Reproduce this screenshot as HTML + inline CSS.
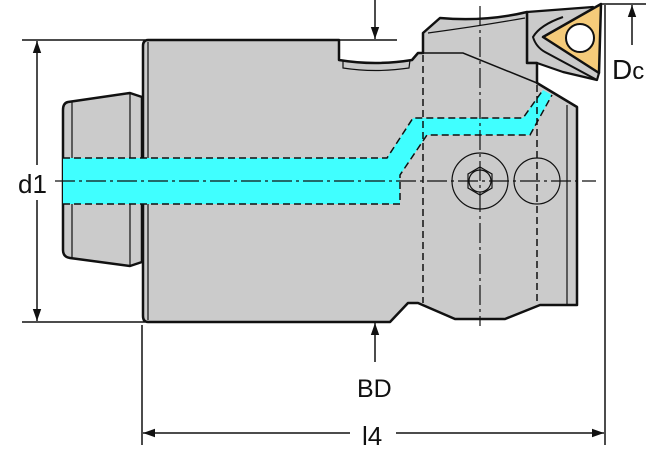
<!DOCTYPE html>
<html><head><style>body{margin:0;background:#fff}svg{display:block}text{font-family:"Liberation Sans",sans-serif;fill:#111}</style></head>
<body>
<svg width="670" height="460" viewBox="0 0 670 460" xmlns="http://www.w3.org/2000/svg">
<defs>
<marker id="b" viewBox="0 0 10 10" refX="10" refY="5" markerWidth="14" markerHeight="12" markerUnits="userSpaceOnUse" orient="auto"><path d="M0,1.5 L10,5 L0,8.5z" fill="#111"/></marker>
</defs>
<!-- shank -->
<path d="M68,102 Q63,103 63,110 L63,250 Q63,257 70,258 L130,266 L142,262 L142,97 L130,93 Z" fill="#cbcbcb" stroke="#111" stroke-width="2.5" stroke-linejoin="round"/>
<line x1="72" y1="101" x2="72" y2="258" stroke="#111" stroke-width="1.2"/>
<line x1="130" y1="93" x2="130" y2="266" stroke="#111" stroke-width="1.2"/>
<!-- holder behind insert -->
<path d="M527,12 L593,7 L599,73 L597,80 L563,72 L537,63 L527,63 Z" fill="#cbcbcb" stroke="#111" stroke-width="2.2" stroke-linejoin="round"/>
<path d="M563,17 Q540,25 533,37 Q536,47 545,52 L597,80" fill="none" stroke="#111" stroke-width="2"/>
<!-- body -->
<path d="M148,40 L339,40 L339,60 Q375,66 412,60 L418,53 L423,53 L423,33 L440,18 Q485,22 527,12 L527,63 L537,63 L537,83 L577,107 L577,305 L540,305 L505,319 L455,319 L418,303 L408,303 L390,322 L148,322 Q143,322 143,316 L143,46 Q143,40 148,40 Z" fill="#cbcbcb" stroke="#111" stroke-width="2.5" stroke-linejoin="round"/>
<line x1="148" y1="42" x2="148" y2="320" stroke="#111" stroke-width="1.2"/>
<line x1="567" y1="105" x2="567" y2="304" stroke="#111" stroke-width="1.2"/>
<path d="M343,60 L343,68 Q375,73 409,68 L410,60" fill="none" stroke="#111" stroke-width="1.2"/>
<path d="M423,53 L463,53 L537,83" fill="none" stroke="#111" stroke-width="1.5"/>
<path d="M428,33 Q480,26 525,18" fill="none" stroke="#111" stroke-width="1.2"/>
<!-- coolant -->
<path d="M63,158 L387,158 L413,118 L523,118 L543,90 L552,95 L530,135 L427,135 L400,175 L400,204 L63,204 Z" fill="#40ffff"/>
<g fill="none" stroke="#111" stroke-width="1.5" stroke-dasharray="7,4">
<path d="M63,158 L387,158 L413,118 L523,118 L543,90"/>
<path d="M63,204 L400,204 L400,175 L427,135 L530,135 L552,95"/>
<line x1="423" y1="55" x2="423" y2="303"/>
<line x1="537" y1="85" x2="537" y2="305"/>
</g>
<!-- center lines -->
<g stroke="#111" stroke-width="1.2" fill="none">
<line x1="55" y1="181" x2="596" y2="181" stroke-dasharray="20,4,3,4"/>
<line x1="480" y1="6" x2="480" y2="326" stroke-dasharray="20,4,3,4"/>
<circle cx="480" cy="181" r="28"/>
<polygon points="480,167 492,174 492,188 480,195 468,188 468,174"/>
<circle cx="480" cy="181" r="11"/>
<circle cx="537" cy="181" r="23"/>
</g>
<!-- insert -->
<polygon points="543,37 601,4 599,73" fill="#f5cb7a" stroke="#111" stroke-width="2.5" stroke-linejoin="round"/>
<circle cx="580" cy="38" r="14" fill="#fff" stroke="#111" stroke-width="2"/>
<!-- dimensions -->
<g stroke="#111" stroke-width="1.5" fill="none">
<line x1="22" y1="40" x2="145" y2="40"/>
<line x1="22" y1="322" x2="145" y2="322"/>
<line x1="37" y1="165" x2="37" y2="41" marker-end="url(#b)"/>
<line x1="37" y1="200" x2="37" y2="321" marker-end="url(#b)"/>
<line x1="142" y1="325" x2="142" y2="445"/>
<line x1="605" y1="5" x2="605" y2="445"/>
<line x1="600" y1="4" x2="646" y2="4"/>
<line x1="632" y1="45" x2="632" y2="5" marker-end="url(#b)"/>
<line x1="340" y1="40" x2="397" y2="40"/>
<line x1="375" y1="0" x2="375" y2="39" marker-end="url(#b)"/>
<line x1="375" y1="362" x2="375" y2="323" marker-end="url(#b)"/>
<line x1="350" y1="433" x2="143" y2="433" marker-end="url(#b)"/>
<line x1="396" y1="433" x2="604" y2="433" marker-end="url(#b)"/>
</g>
<text x="18" y="193" font-size="26">d1</text>
<text x="357" y="397" font-size="25">BD</text>
<text x="362" y="445" font-size="26">l4</text>
<text x="612" y="79" font-size="28">D<tspan font-size="24">c</tspan></text>
</svg>
</body></html>
